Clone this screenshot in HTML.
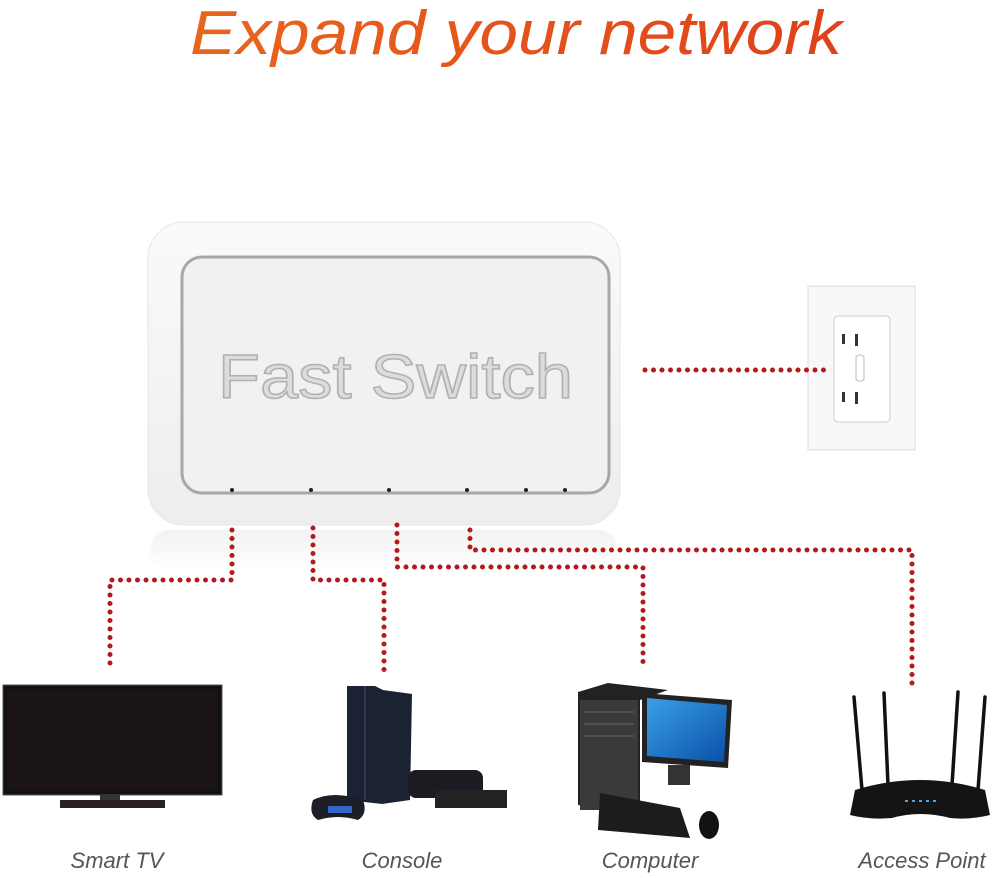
<!DOCTYPE html>
<html><head><meta charset="utf-8"><style>
html,body{margin:0;padding:0;background:#fff;width:1000px;height:878px;overflow:hidden}
</style></head><body>
<svg width="1000" height="878" viewBox="0 0 1000 878" xmlns="http://www.w3.org/2000/svg">
<defs>
<linearGradient id="sw" x1="0" y1="0" x2="0" y2="1"><stop offset="0" stop-color="#fafafa"/><stop offset="1" stop-color="#ededed"/></linearGradient>
<linearGradient id="ttl" x1="0" y1="0" x2="1" y2="0"><stop offset="0" stop-color="#e8661c"/><stop offset="1" stop-color="#e0401a"/></linearGradient>
<linearGradient id="scr" x1="0" y1="0" x2="1" y2="1"><stop offset="0" stop-color="#3aa0e8"/><stop offset="1" stop-color="#0a4fa8"/></linearGradient>
<linearGradient id="refl" x1="0" y1="0" x2="0" y2="1"><stop offset="0" stop-color="#f2f2f2"/><stop offset="1" stop-color="#fff"/></linearGradient>
</defs>
<text x="190" y="54" textLength="652" lengthAdjust="spacingAndGlyphs" font-family="Liberation Sans, sans-serif" font-style="italic" font-size="62" fill="url(#ttl)">Expand your network</text>

<!-- switch -->
<rect x="150" y="530" width="468" height="40" rx="20" fill="url(#refl)"/>
<rect x="148" y="222" width="472" height="303" rx="36" fill="url(#sw)" stroke="#e6e6e6"/>
<rect x="182" y="257" width="427" height="236" rx="20" fill="#f1f1f1" stroke="#a8a8a8" stroke-width="3"/>
<text x="218" y="398" textLength="355" lengthAdjust="spacingAndGlyphs" font-family="Liberation Sans, sans-serif" font-size="62" fill="#dcdcdc" stroke="#b0b0b0" stroke-width="1.5">Fast Switch</text>
<g fill="#222"><circle cx="232" cy="490" r="2"/><circle cx="311" cy="490" r="2"/><circle cx="389" cy="490" r="2"/><circle cx="467" cy="490" r="2"/><circle cx="526" cy="490" r="2"/><circle cx="565" cy="490" r="2"/></g>

<!-- outlet -->
<rect x="808" y="286" width="107" height="164" fill="#f8f8f8" stroke="#ddd"/>
<rect x="834" y="316" width="56" height="106" rx="4" fill="#fff" stroke="#ccc"/>
<g fill="#333"><rect x="842" y="334" width="3" height="10"/><rect x="855" y="334" width="3" height="12"/><rect x="842" y="392" width="3" height="10"/><rect x="855" y="392" width="3" height="12"/></g>
<rect x="856" y="355" width="8" height="26" rx="3" fill="#fff" stroke="#bbb"/>

<!-- dotted lines -->
<g fill="none" stroke="#b3181b" stroke-width="5" stroke-linecap="round" stroke-dasharray="0 8.5">
<path d="M645 370 H832"/>
<path d="M232 530 V580 H110 V670"/>
<path d="M313 528 V580 H384 V675"/>
<path d="M397 525 V567 H643 V668"/>
<path d="M470 530 V550 H912 V688"/>
</g>

<!-- TV -->
<rect x="3" y="685" width="219" height="110" fill="#111" stroke="#555"/>
<rect x="7" y="689" width="211" height="102" fill="#1a1414"/>
<rect x="100" y="795" width="20" height="5" fill="#333"/>
<rect x="60" y="800" width="105" height="8" fill="#2a2020"/>

<!-- console -->
<path d="M347 686 L375 686 L383 690 L412 694 L410 800 L382 804 L347 800 Z" fill="#1b2234"/>
<path d="M365 686 L365 800" stroke="#2d3852" stroke-width="2"/>
<rect x="408" y="770" width="75" height="28" rx="8" fill="#1b1b22"/>
<rect x="435" y="790" width="72" height="18" fill="#222"/>
<path d="M313 800 q20 -10 50 0 q5 14 -5 20 q-20 -6 -40 0 q-10 -6 -5 -20z" fill="#1d1f28"/>
<rect x="328" y="806" width="24" height="7" fill="#3566c8"/>

<!-- computer -->
<path d="M578 692 L608 683 L668 690 L640 700 L640 815 L578 805 Z" fill="#222"/>
<rect x="580" y="700" width="58" height="110" fill="#3a3a3a"/>
<g stroke="#666"><line x1="584" y1="712" x2="634" y2="712"/><line x1="584" y1="724" x2="634" y2="724"/><line x1="584" y1="736" x2="634" y2="736"/></g>
<path d="M642 693 L732 700 L728 768 L642 762 Z" fill="#222"/>
<path d="M647 698 L727 705 L724 762 L647 756 Z" fill="url(#scr)"/>
<rect x="668" y="765" width="22" height="20" fill="#333"/>
<path d="M600 793 L680 808 L690 838 L598 830 Z" fill="#1c1c1c"/>
<ellipse cx="709" cy="825" rx="10" ry="14" fill="#111"/>

<!-- router -->
<g stroke="#111" stroke-width="3.5" stroke-linecap="round"><line x1="854" y1="697" x2="862" y2="790"/><line x1="884" y1="693" x2="888" y2="785"/><line x1="958" y1="692" x2="952" y2="785"/><line x1="985" y1="697" x2="978" y2="790"/></g>
<path d="M855 790 Q920 770 985 790 L990 815 Q970 820 950 818 Q920 810 892 818 Q870 820 850 815 Z" fill="#141414"/>
<g fill="#4aa6e0"><rect x="905" y="800" width="3" height="2"/><rect x="912" y="800" width="3" height="2"/><rect x="919" y="800" width="3" height="2"/><rect x="926" y="800" width="3" height="2"/><rect x="933" y="800" width="3" height="2"/></g>

<!-- labels -->
<g font-family="Liberation Sans, sans-serif" font-style="italic" font-size="22" fill="#555" text-anchor="middle">
<text x="117" y="868">Smart TV</text>
<text x="402" y="868">Console</text>
<text x="650" y="868">Computer</text>
<text x="922" y="868">Access Point</text>
</g>
</svg>
</body></html>
